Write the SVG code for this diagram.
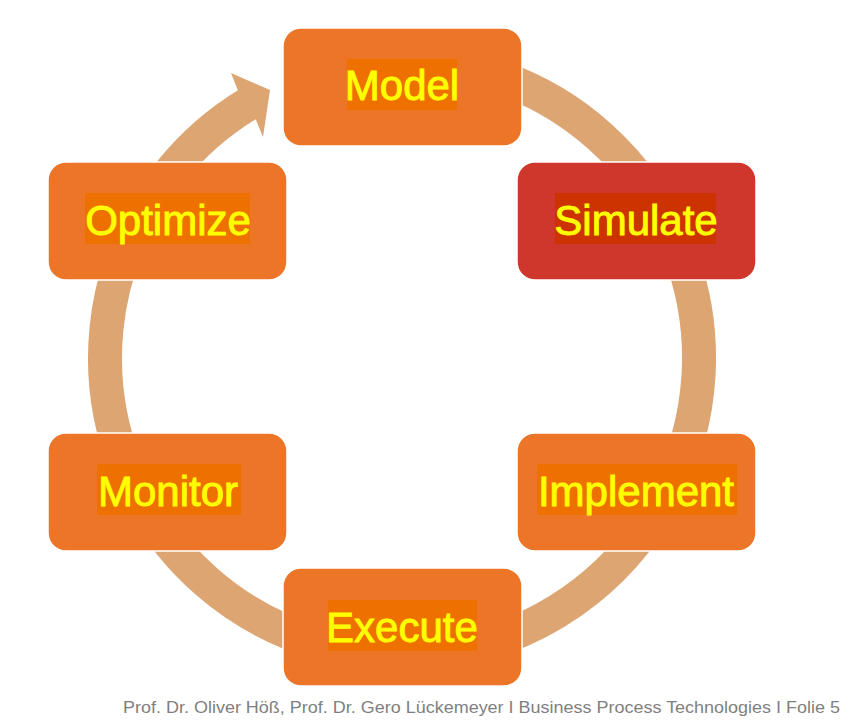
<svg xmlns="http://www.w3.org/2000/svg" width="850" height="725" viewBox="0 0 850 725">
<style>
.box{fill:#ED7528;stroke:#FFFFFF;stroke-width:1.5}
.red{fill:#CF372C}
.hl{fill:#EE7100}
.hlr{fill:#CC3300}
.lbl{font-family:"Liberation Sans",Arial,sans-serif;font-size:42px;fill:#FFFF00;stroke:#FFFF00;stroke-width:0.9;text-anchor:middle}
.foot{font-family:"Liberation Sans",Arial,sans-serif;font-size:16px;fill:#7F7F7F;text-anchor:end}
</style>
<rect width="850" height="725" fill="#FFFFFF"/>
<g id="connectors">
<path d="M 350.4 65.5 A 297 297 0 1 1 144.8 209.5" fill="none" stroke="#DCA572" stroke-width="34"/>
<path d="M 106.9 250.6 A 314 314 0 0 1 237.9 90.3 L 231 73 L 270 90 L 263 137 L 255.7 119.3 A 280 280 0 0 0 138.9 262.2 Z" fill="#DCA572"/>
</g>
<g id="model">
<rect class="box" x="283" y="28" width="239" height="118" rx="18"/>
<rect class="hl" x="347" y="59" width="110" height="51"/>
<text class="lbl" x="402" y="100">Model</text>
</g>
<g id="simulate">
<rect class="box red" x="517" y="162" width="239" height="118" rx="18"/>
<rect class="hlr" x="555" y="193" width="161" height="51"/>
<text class="lbl" x="636" y="235">Simulate</text>
</g>
<g id="implement">
<rect class="box" x="517" y="433" width="239" height="118" rx="18"/>
<rect class="hl" x="537" y="464" width="200" height="51"/>
<text class="lbl" x="636" y="506">Implement</text>
</g>
<g id="execute">
<rect class="box" x="283" y="568" width="239" height="118" rx="18"/>
<rect class="hl" x="328" y="600" width="149" height="51"/>
<text class="lbl" x="402" y="642">Execute</text>
</g>
<g id="monitor">
<rect class="box" x="48" y="433" width="239" height="118" rx="18"/>
<rect class="hl" x="97" y="464" width="144" height="51"/>
<text class="lbl" x="168" y="506">Monitor</text>
</g>
<g id="optimize">
<rect class="box" x="48" y="162" width="239" height="118" rx="18"/>
<rect class="hl" x="85" y="193" width="165" height="51"/>
<text class="lbl" x="168" y="235">Optimize</text>
</g>
<text class="foot" x="840" y="713" textLength="717" lengthAdjust="spacingAndGlyphs">Prof. Dr. Oliver Höß, Prof. Dr. Gero Lückemeyer I Business Process Technologies I Folie 5</text>
</svg>
